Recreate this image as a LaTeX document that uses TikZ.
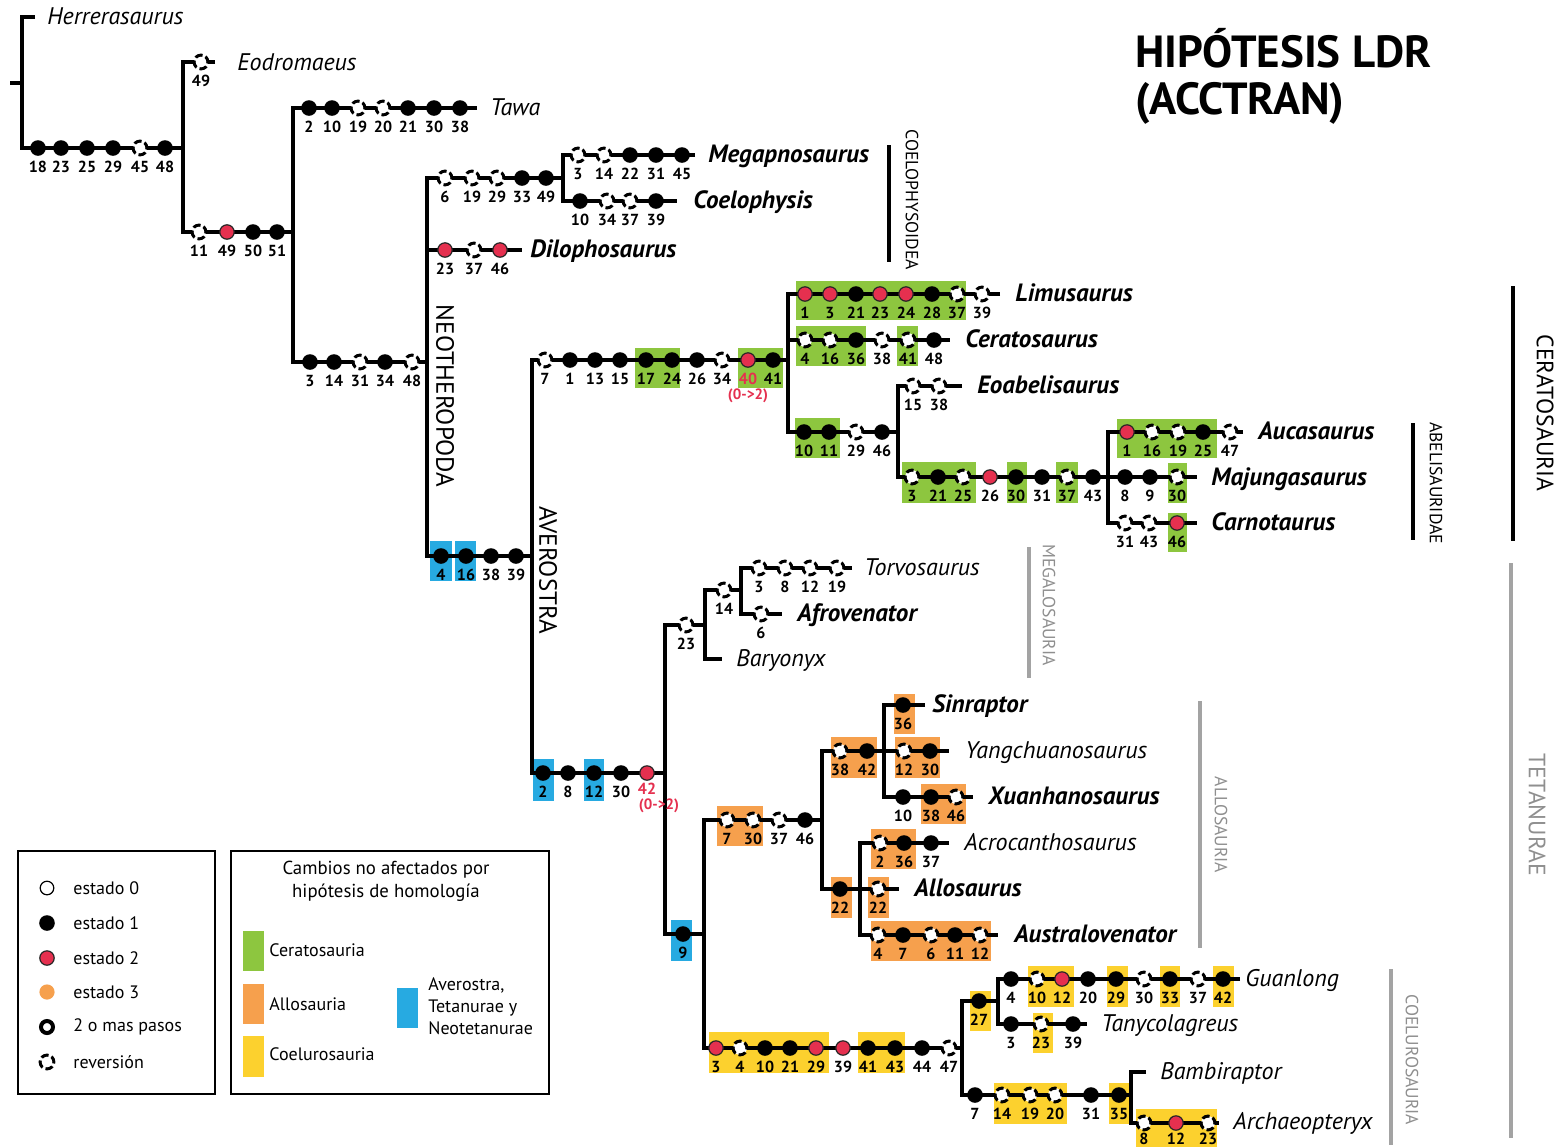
\documentclass[tikz,border=0pt]{standalone}
\usepackage{fontspec}
\setmainfont{PT Sans}
\definecolor{mred}{HTML}{E5304F}
\definecolor{cgreen}{HTML}{8DC63F}
\definecolor{corange}{HTML}{F6A04D}
\definecolor{cyellow}{HTML}{FCD12E}
\definecolor{cblue}{HTML}{27AAE1}
\definecolor{cgray}{HTML}{A3A3A3}
\definecolor{tgray}{HTML}{8F8F8F}
\newcommand\mksoff[3]{%
  \foreach \mkx/\mkt/\mkl in {#3}{%
    \edef\mkdo{\noexpand\node[mk\mkt] (m-\mkx-#1) at (\mkx,#1) {};
      \noexpand\node[lab] (l-\mkx-#1) at (\mkx,#1+#2) {\mkl};}%
    \mkdo}}
\newcommand\mks[2]{\mksoff{#1}{19}{#2}}
\newcommand\bx[5]{\fill[#1] (#2,#3) rectangle (#4,#5);}
\begin{document}
\begin{tikzpicture}[x=0.5pt,y=-0.5pt,
  br/.style={line width=1.9pt},
  mkb/.style={circle, fill=black, inner sep=0pt, minimum size=7.8pt},
  mkr/.style={circle, fill=mred, draw=black!85, line width=0.6pt, inner sep=0pt, minimum size=7.2pt},
  mkv/.style={circle, fill=white, draw=black, line width=1.5pt, dash pattern=on 3.8pt off 1.6pt, dash phase=0.8pt, inner sep=0pt, minimum size=6.9pt},
  lab/.style={font=\bfseries\fontsize{8}{9}\selectfont, inner sep=0pt, text height=5.6pt, text depth=0pt},
  tax/.style={anchor=base west, inner sep=0pt, font=\itshape\fontsize{12}{14}\selectfont},
  taxb/.style={anchor=base west, inner sep=0pt, font=\bfseries\itshape\fontsize{12.5}{14}\selectfont},
  clade/.style={rotate=-90, inner sep=0pt, font=\fontsize{12.5}{14}\selectfont},
  cladesm/.style={rotate=-90, inner sep=0pt, font=\fontsize{8.8}{10}\selectfont},
  bar/.style={line width=2pt},
  gbar/.style={line width=2pt, cgray},
  leg/.style={anchor=west, inner sep=0pt, font=\fontsize{9}{11}\selectfont},
  redl/.style={font=\bfseries\fontsize{8}{9}\selectfont, text=mred, inner sep=0pt}
]
\useasboundingbox (0,0) rectangle (1564,1147);
\fill[white] (0,0) rectangle (1564,1147);

% ---------- coloured boxes ----------
\bx{cgreen}{635}{348}{680}{388}
\bx{cgreen}{738}{348}{783}{388}
\bx{cgreen}{796}{281}{966}{320}
\bx{cgreen}{796}{326}{866}{366}
\bx{cgreen}{897}{326}{918}{366}
\bx{cgreen}{795}{418}{840}{458}
\bx{cgreen}{902}{462}{976}{503}
\bx{cgreen}{1007}{462}{1027}{503}
\bx{cgreen}{1056}{462}{1078}{503}
\bx{cgreen}{1117}{419}{1217}{458}
\bx{cgreen}{1168}{463}{1187}{503}
\bx{cgreen}{1168}{513}{1187}{552}
\bx{cblue}{430}{541}{452}{581}
\bx{cblue}{455}{541}{476}{581}
\bx{cblue}{533}{759}{554}{801}
\bx{cblue}{584}{759}{604}{801}
\bx{cblue}{671}{920}{692}{961}
\bx{corange}{717}{806}{763}{846}
\bx{corange}{831}{737}{877}{778}
\bx{corange}{894}{694}{915}{734}
\bx{corange}{895}{737}{940}{778}
\bx{corange}{921}{784}{966}{824}
\bx{corange}{831}{877}{852}{918}
\bx{corange}{871}{829}{916}{869}
\bx{corange}{868}{877}{889}{918}
\bx{corange}{871}{921}{991}{961}
\bx{cyellow}{709}{1032}{829}{1073}
\bx{cyellow}{858}{1032}{905}{1073}
\bx{cyellow}{970}{991}{991}{1031}
\bx{cyellow}{1028}{966}{1074}{1007}
\bx{cyellow}{1107}{966}{1128}{1007}
\bx{cyellow}{1160}{966}{1180}{1007}
\bx{cyellow}{1213}{966}{1234}{1007}
\bx{cyellow}{1033}{1013}{1053}{1053}
\bx{cyellow}{994}{1083}{1067}{1124}
\bx{cyellow}{1109}{1083}{1129}{1124}
\bx{cyellow}{1136}{1109}{1217}{1147}

% ---------- tree coordinates ----------
\coordinate (rs) at (10,83);
\coordinate (R) at (22,83);
\coordinate (tH) at (35,17);
\coordinate (nA) at (183,148);
\coordinate (tE) at (215,62);
\coordinate (nB) at (293,232);
\coordinate (tT) at (477,108);
\coordinate (nN) at (427,362);
\coordinate (nC) at (563,178);
\coordinate (tD) at (522,250);
\coordinate (nAv) at (532,556);
\coordinate (tMeg) at (695,155);
\coordinate (tCoe) at (677,201);
\coordinate (nCer) at (788,360);
\coordinate (nTet) at (665,773);
\coordinate (tLim) at (1000,294);
\coordinate (tCer) at (950,340);
\coordinate (nAb1) at (898,432);
\coordinate (tEoa) at (962,386);
\coordinate (nAb) at (1108,477);
\coordinate (tAuc) at (1243,432);
\coordinate (tMaj) at (1197,477);
\coordinate (tCar) at (1197,523);
\coordinate (nMeg) at (705,625);
\coordinate (nNeo) at (704,934);
\coordinate (nSpi) at (741,590);
\coordinate (tBar) at (722,659);
\coordinate (tTor) at (852,568);
\coordinate (tAfr) at (782,614);
\coordinate (nAll) at (822,820);
\coordinate (nCoel) at (962,1048);
\coordinate (nMet) at (884,751);
\coordinate (nAl2) at (860,889);
\coordinate (tSin) at (925,705);
\coordinate (tYan) at (949,751);
\coordinate (tXua) at (973,797);
\coordinate (tAcr) at (949,843);
\coordinate (tAlo) at (899,889);
\coordinate (tAus) at (998,935);
\coordinate (nTyr) at (998,1001);
\coordinate (nMan) at (1131,1095);
\coordinate (tGua) at (1240,979);
\coordinate (tTan) at (1087,1024);
\coordinate (tBam) at (1146,1072);
\coordinate (tArc) at (1219,1123);

% ---------- branches ----------
\draw[br] (rs) -- (R);
\draw[br] (tH) -- (R |- tH) -- (R |- nA) -- (nA);
\draw[br] (tE) -- (nA |- tE) -- (nA |- nB) -- (nB);
\draw[br] (tT) -- (nB |- tT) -- (nB |- nN) -- (nN);
\draw[br] (nC) -- (nN |- nC) -- (nN |- nAv) -- (nAv);
\draw[br] (nN |- tD) -- (tD);
\draw[br] (tMeg) -- (nC |- tMeg) -- (nC |- tCoe) -- (tCoe);
\draw[br] (nCer) -- (nAv |- nCer) -- (nAv |- nTet) -- (nTet);
\draw[br] (tLim) -- (nCer |- tLim) -- (nCer |- nAb1) -- (nAb1);
\draw[br] (nCer |- tCer) -- (tCer);
\draw[br] (tEoa) -- (nAb1 |- tEoa) -- (nAb1 |- nAb) -- (nAb);
\draw[br] (tAuc) -- (nAb |- tAuc) -- (nAb |- tCar) -- (tCar);
\draw[br] (nAb) -- (tMaj);
\draw[br] (nMeg) -- (nTet |- nMeg) -- (nTet |- nNeo) -- (nNeo);
\draw[br] (nSpi) -- (nMeg |- nSpi) -- (nMeg |- tBar) -- (tBar);
\draw[br] (tTor) -- (nSpi |- tTor) -- (nSpi |- tAfr) -- (tAfr);
\draw[br] (nAll) -- (nNeo |- nAll) -- (nNeo |- nCoel) -- (nCoel);
\draw[br] (nMet) -- (nAll |- nMet) -- (nAll |- nAl2) -- (nAl2);
\draw[br] (tSin) -- (nMet |- tSin) -- (nMet |- tXua) -- (tXua);
\draw[br] (nMet |- tYan) -- (tYan);
\draw[br] (tAcr) -- (nAl2 |- tAcr) -- (nAl2 |- tAus) -- (tAus);
\draw[br] (nAl2 |- tAlo) -- (tAlo);
\draw[br] (nTyr) -- (nCoel |- nTyr) -- (nCoel |- nMan) -- (nMan);
\draw[br] (tGua) -- (nTyr |- tGua) -- (nTyr |- tTan) -- (tTan);
\draw[br] (tBam) -- (nMan |- tBam) -- (nMan |- tArc) -- (tArc);

% ---------- character markers ----------
\mks{148}{38/b/18, 61/b/23, 87/b/25, 113/b/29, 140/v/45, 165/b/48}
\mks{62}{201/v/49}
\mks{232}{199/v/11, 227/r/49, 253/b/50, 277/b/51}
\mks{108}{309/b/2, 332/b/10, 358/v/19, 383/v/20, 408/b/21, 434/b/30, 460/b/38}
\mks{362}{310/b/3, 334/b/14, 360/v/31, 385/b/34, 412/v/48}
\mks{178}{445/v/6, 472/v/19, 497/v/29, 522/b/33, 546/b/49}
\mks{155}{578/v/3, 604/v/14, 630/b/22, 656/b/31, 682/b/45}
\mks{201}{580/b/10, 607/v/34, 630/v/37, 656/b/39}
\mks{250}{445/r/23, 474/v/37, 500/r/46}
\mks{556}{441/b/4, 466/b/16, 491/b/38, 516/b/39}
\mks{360}{545/v/7, 570/b/1, 595/b/13, 620/b/15, 646/b/17, 672/b/24, 697/b/26, 722/v/34, 748/r/{}, 773/b/41}
\node[redl] (r40a) at (748,379) {40};
\node[redl, font=\bfseries\fontsize{7.5}{8}\selectfont] (r40b) at (748,396) {(0->2)};
\mks{294}{805/r/1, 830/r/3, 856/b/21, 880/r/23, 906/r/24, 932/b/28, 957/v/37, 982/v/39}
\mks{340}{805/v/4, 830/v/16, 856/b/36, 882/v/38, 908/v/41, 934/b/48}
\mks{432}{804/b/10, 829/b/11, 856/v/29, 882/b/46}
\mks{386}{913/v/15, 939/v/38}
\mks{477}{912/v/3, 938/b/21, 963/v/25, 990/r/26, 1016/b/30, 1042/b/31, 1067/v/37, 1093/b/43}
\mks{432}{1127/r/1, 1152/v/16, 1178/v/19, 1203/b/25, 1230/v/47}
\mks{477}{1125/b/8, 1150/b/9, 1177/v/30}
\mks{523}{1125/v/31, 1149/v/43, 1177/r/46}
\mks{773}{543/b/2, 568/b/8, 594/b/12, 621/b/30, 647/r/{}}
\node[redl] (r42a) at (647,789) {42};
\node[redl, font=\bfseries\fontsize{7.5}{8}\selectfont] (r42b) at (659,806) {(0->2)};
\mks{625}{686/v/23}
\mks{590}{724/v/14}
\mks{568}{759/v/3, 785/v/8, 810/v/12, 837/v/19}
\mks{614}{761/v/6}
\mks{934}{683/b/9}
\mks{820}{727/v/7, 753/v/30, 779/v/37, 805/b/46}
\mks{751}{840/v/38, 867/b/42}
\mks{705}{903/b/36}
\mks{751}{904/v/12, 930/b/30}
\mks{797}{903/b/10, 931/b/38, 956/v/46}
\mks{889}{840/b/22}
\mks{843}{880/v/2, 904/b/36, 931/b/37}
\mks{889}{878/v/22}
\mks{935}{878/v/4, 903/b/7, 931/v/6, 955/b/11, 980/v/12}
\mks{1048}{716/r/3, 740/v/4, 765/b/10, 790/b/21, 816/r/29, 843/r/39, 868/b/41, 895/b/43, 922/b/44, 949/v/47}
\mks{1001}{979/b/27}
\mks{979}{1011/b/4, 1037/v/10, 1062/r/12, 1088/b/20, 1116/b/29, 1144/v/30, 1170/b/33, 1198/v/37, 1223/b/42}
\mks{1024}{1011/b/3, 1041/v/23, 1073/b/39}
\mks{1095}{975/b/7, 1002/v/14, 1030/v/19, 1055/v/20, 1091/b/31, 1119/b/35}
\mksoff{1123}{16}{1144/v/8, 1176/r/12, 1208/v/23}

% ---------- taxon names ----------
\node[tax]  (xHer) at (47,24) {Herrerasaurus};
\node[tax]  (xEod) at (237,70) {Eodromaeus};
\node[tax]  (xTaw) at (490,115) {Tawa};
\node[taxb] (xMeg) at (708,162) {Megapnosaurus};
\node[taxb] (xCoe) at (693,208) {Coelophysis};
\node[taxb] (xDil) at (530,257) {Dilophosaurus};
\node[taxb] (xLim) at (1015,301) {Limusaurus};
\node[taxb] (xCer) at (965,347) {Ceratosaurus};
\node[taxb] (xEoa) at (977,393) {Eoabelisaurus};
\node[taxb] (xAuc) at (1258,439) {Aucasaurus};
\node[taxb] (xMaj) at (1211,485) {Majungasaurus};
\node[taxb] (xCar) at (1211,530) {Carnotaurus};
\node[tax]  (xTor) at (864,575) {Torvosaurus};
\node[taxb] (xAfr) at (797,621) {Afrovenator};
\node[tax]  (xBar) at (736,666) {Baryonyx};
\node[taxb] (xSin) at (932,712) {Sinraptor};
\node[tax]  (xYan) at (965,758) {Yangchuanosaurus};
\node[taxb] (xXua) at (988,804) {Xuanhanosaurus};
\node[tax]  (xAcr) at (964,850) {Acrocanthosaurus};
\node[taxb] (xAlo) at (914,896) {Allosaurus};
\node[taxb] (xAus) at (1014,942) {Australovenator};
\node[tax]  (xGua) at (1245,986) {Guanlong};
\node[tax]  (xTan) at (1101,1031) {Tanycolagreus};
\node[tax]  (xBam) at (1160,1079) {Bambiraptor};
\node[tax]  (xArc) at (1233,1129) {Archaeopteryx};

% ---------- clade bars and labels ----------
\draw[bar] (889,145) -- (889,262);
\node[cladesm] (cCoe) at (912,200) {COELOPHYSOIDEA};
\node[clade] (cNeo) at (445,396) {NEOTHEROPODA};
\node[clade] (cAve) at (548,570) {AVEROSTRA};
\draw[bar] (1513,286) -- (1513,541);
\node[clade, font=\fontsize{11.8}{13}\selectfont] (cCera) at (1545,413) {CERATOSAURIA};
\draw[bar] (1413,423) -- (1413,540);
\node[cladesm] (cAbe) at (1436,483) {ABELISAURIDAE};
\draw[gbar] (1029,547) -- (1029,678);
\node[cladesm, text=tgray] (cMeg) at (1049,605) {MEGALOSAURIA};
\draw[gbar] (1200,701) -- (1200,948);
\node[cladesm, text=tgray] (cAll) at (1221,825) {ALLOSAURIA};
\draw[gbar] (1391,969) -- (1391,1145);
\node[cladesm, text=tgray] (cCoel) at (1412,1060) {COELUROSAURIA};
\draw[gbar] (1511,563) -- (1511,1138);
\node[clade, text=tgray, font=\fontsize{11.8}{13}\selectfont] (cTet) at (1537,815) {TETANURAE};

% ---------- title ----------
\node[anchor=west, inner sep=0pt, font=\bfseries\fontsize{22.5}{25}\selectfont] (ttl1) at (1135,48) {HIPÓTESIS LDR};
\node[anchor=west, inner sep=0pt, font=\bfseries\fontsize{22.5}{25}\selectfont] (ttl2) at (1135,103) {(ACCTRAN)};

% ---------- legend ----------
\draw[line width=0.8pt] (18,851) rectangle (215,1094);
\draw[line width=0.8pt] (231,851) rectangle (549,1094);
\node[circle, draw, line width=0.6pt, fill=white, minimum size=6.8pt, inner sep=0pt] (le0) at (47,888) {};
\node[mkb] (le1) at (47,923) {};
\node[mkr] (le2) at (47,958) {};
\node[circle, fill=corange, minimum size=7.6pt, inner sep=0pt] (le3) at (47,992) {};
\node[circle, draw, line width=2pt, fill=white, minimum size=6pt, inner sep=0pt] (le4) at (47,1027) {};
\node[mkv] (le5) at (47,1062) {};
\node[leg] (lt0) at (73,888) {estado 0};
\node[leg] (lt1) at (73,923) {estado 1};
\node[leg] (lt2) at (73,958) {estado 2};
\node[leg] (lt3) at (73,992) {estado 3};
\node[leg] (lt4) at (73,1027) {2 o mas pasos};
\node[leg] (lt5) at (73,1062) {reversión};
\node[inner sep=0pt, align=center, font=\fontsize{9.4}{11.5}\selectfont] (lhd) at (386,881) {Cambios no afectados por\\hipótesis de homología};
\fill[cgreen] (243,931) rectangle (264,971);
\fill[corange] (243,984) rectangle (264,1024);
\fill[cyellow] (243,1036) rectangle (264,1077);
\fill[cblue] (397,988) rectangle (418,1028);
\node[leg] (lg1) at (269,950) {Ceratosauria};
\node[leg] (lg2) at (269,1004) {Allosauria};
\node[leg] (lg3) at (269,1054) {Coelurosauria};
\node[leg, align=left] (lg4) at (428,1006) {Averostra,\\Tetanurae y\\Neotetanurae};
\end{tikzpicture}
\end{document}
